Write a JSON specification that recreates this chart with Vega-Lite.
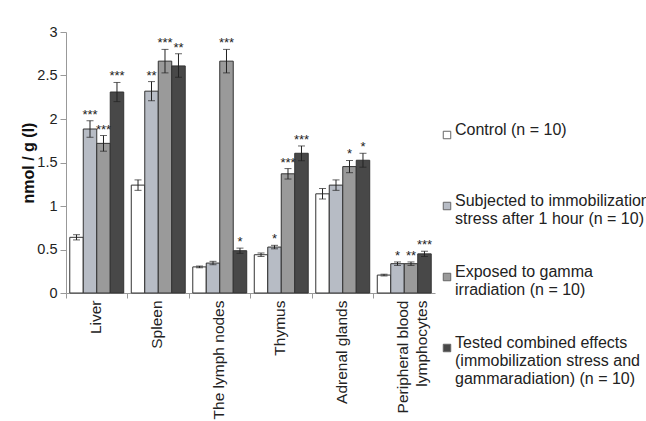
{
  "$schema": "https://vega.github.io/schema/vega-lite/v6.json",
  "width": 369,
  "height": 261,
  "autosize": {"type": "none"},
  "padding": {"left": 66, "top": 32, "right": 211, "bottom": 128},
  "background": "white",
  "config": {
    "font": "Liberation Sans",
    "view": {"stroke": null},
    "axis": {"labelFont": "Liberation Sans", "titleFont": "Liberation Sans", "labelColor": "#222", "titleColor": "#111"},
    "legend": {"labelFont": "Liberation Sans"}
  },
  "data": {
    "values": [
      {"organ": "Liver", "group": "Control (n = 10)|", "value": 0.64, "lo": 0.61, "hi": 0.67, "sig": ""},
      {"organ": "Liver", "group": "Subjected to immobilization|stress after 1 hour (n = 10)", "value": 1.885, "lo": 1.79, "hi": 1.98, "sig": "***"},
      {"organ": "Liver", "group": "Exposed to gamma|irradiation (n = 10)", "value": 1.72, "lo": 1.63, "hi": 1.81, "sig": "***"},
      {"organ": "Liver", "group": "Tested combined effects|(immobilization stress and|gammaradiation) (n = 10)", "value": 2.31, "lo": 2.2, "hi": 2.42, "sig": "***"},
      {"organ": "Spleen", "group": "Control (n = 10)|", "value": 1.24, "lo": 1.18, "hi": 1.3, "sig": ""},
      {"organ": "Spleen", "group": "Subjected to immobilization|stress after 1 hour (n = 10)", "value": 2.32, "lo": 2.21, "hi": 2.43, "sig": "**"},
      {"organ": "Spleen", "group": "Exposed to gamma|irradiation (n = 10)", "value": 2.665, "lo": 2.53, "hi": 2.8, "sig": "***"},
      {"organ": "Spleen", "group": "Tested combined effects|(immobilization stress and|gammaradiation) (n = 10)", "value": 2.61, "lo": 2.48, "hi": 2.75, "sig": "**"},
      {"organ": "The lymph nodes", "group": "Control (n = 10)|", "value": 0.3, "lo": 0.29, "hi": 0.31, "sig": ""},
      {"organ": "The lymph nodes", "group": "Subjected to immobilization|stress after 1 hour (n = 10)", "value": 0.344, "lo": 0.325, "hi": 0.364, "sig": ""},
      {"organ": "The lymph nodes", "group": "Exposed to gamma|irradiation (n = 10)", "value": 2.665, "lo": 2.53, "hi": 2.8, "sig": "***"},
      {"organ": "The lymph nodes", "group": "Tested combined effects|(immobilization stress and|gammaradiation) (n = 10)", "value": 0.486, "lo": 0.456, "hi": 0.516, "sig": "*"},
      {"organ": "Thymus", "group": "Control (n = 10)|", "value": 0.44, "lo": 0.42, "hi": 0.46, "sig": ""},
      {"organ": "Thymus", "group": "Subjected to immobilization|stress after 1 hour (n = 10)", "value": 0.528, "lo": 0.508, "hi": 0.548, "sig": "*"},
      {"organ": "Thymus", "group": "Exposed to gamma|irradiation (n = 10)", "value": 1.37, "lo": 1.31, "hi": 1.43, "sig": "***"},
      {"organ": "Thymus", "group": "Tested combined effects|(immobilization stress and|gammaradiation) (n = 10)", "value": 1.606, "lo": 1.52, "hi": 1.69, "sig": "***"},
      {"organ": "Adrenal glands", "group": "Control (n = 10)|", "value": 1.14, "lo": 1.08, "hi": 1.2, "sig": ""},
      {"organ": "Adrenal glands", "group": "Subjected to immobilization|stress after 1 hour (n = 10)", "value": 1.24, "lo": 1.18, "hi": 1.3, "sig": ""},
      {"organ": "Adrenal glands", "group": "Exposed to gamma|irradiation (n = 10)", "value": 1.453, "lo": 1.383, "hi": 1.523, "sig": "*"},
      {"organ": "Adrenal glands", "group": "Tested combined effects|(immobilization stress and|gammaradiation) (n = 10)", "value": 1.526, "lo": 1.446, "hi": 1.606, "sig": "*"},
      {"organ": "Peripheral blood|lymphocytes", "group": "Control (n = 10)|", "value": 0.206, "lo": 0.196, "hi": 0.216, "sig": ""},
      {"organ": "Peripheral blood|lymphocytes", "group": "Subjected to immobilization|stress after 1 hour (n = 10)", "value": 0.337, "lo": 0.317, "hi": 0.357, "sig": "*"},
      {"organ": "Peripheral blood|lymphocytes", "group": "Exposed to gamma|irradiation (n = 10)", "value": 0.337, "lo": 0.317, "hi": 0.357, "sig": "**"},
      {"organ": "Peripheral blood|lymphocytes", "group": "Tested combined effects|(immobilization stress and|gammaradiation) (n = 10)", "value": 0.45, "lo": 0.42, "hi": 0.48, "sig": "***"}
    ]
  },
  "encoding": {
    "xOffset": {
      "field": "group", "type": "nominal",
      "sort": ["Control (n = 10)|", "Subjected to immobilization|stress after 1 hour (n = 10)", "Exposed to gamma|irradiation (n = 10)", "Tested combined effects|(immobilization stress and|gammaradiation) (n = 10)"],
      "scale": {"paddingInner": 0, "paddingOuter": 0.28}
    }
  },
  "layer": [
    {
      "mark": {"type": "bar", "stroke": "#333", "strokeWidth": 1},
      "encoding": {
        "x": {
          "field": "organ", "type": "nominal",
          "sort": ["Liver", "Spleen", "The lymph nodes", "Thymus", "Adrenal glands", "Peripheral blood|lymphocytes"],
          "scale": {"paddingInner": 0, "paddingOuter": 0},
          "axis": {"title": null, "orient": "bottom", "labels": false, "bandPosition": 0, "ticks": true, "tickSize": 5, "tickColor": "#999", "domainColor": "#999"}
        },
        "y": {
          "field": "value", "type": "quantitative", "title": "nmol / g (l)",
          "scale": {"domain": [0, 3], "nice": false},
          "axis": {"title": "nmol / g (l)", "values": [0, 0.5, 1, 1.5, 2, 2.5, 3], "format": "~g", "grid": false, "domainColor": "#999", "tickColor": "#999", "tickSize": 6, "labelFontSize": 14.5, "labelPadding": 3, "titleFontSize": 16, "titleFontWeight": "bold", "titlePadding": 0}
        },
        "color": {
          "field": "group", "type": "nominal",
          "sort": ["Control (n = 10)|", "Subjected to immobilization|stress after 1 hour (n = 10)", "Exposed to gamma|irradiation (n = 10)", "Tested combined effects|(immobilization stress and|gammaradiation) (n = 10)"],
          "scale": {"range": ["#ffffff", "#b7bcc5", "#9a9a9a", "#484848"]},
          "legend": {"title": null, "orient": "none", "legendX": 373, "legendY": 95, "symbolType": "square", "symbolSize": 56, "symbolStrokeColor": "#666", "symbolStrokeWidth": 1, "labelFontSize": 16, "labelColor": "#222", "labelLimit": 0, "labelExpr": "split(datum.label, '|')", "labelBaseline": "alphabetic", "labelOffset": 0, "rowPadding": 37}
        }
      }
    },
    {
      "mark": {"type": "rule", "color": "#222", "strokeWidth": 1},
      "encoding": {
        "x": {
          "field": "organ", "type": "nominal",
          "sort": ["Liver", "Spleen", "The lymph nodes", "Thymus", "Adrenal glands", "Peripheral blood|lymphocytes"],
          "axis": {"title": null, "orient": "bottom", "labels": true, "ticks": false, "domain": false, "labelAngle": -90, "labelAlign": "right", "labelBaseline": "alphabetic", "labelOffset": 4, "labelPadding": 7, "labelFontSize": 15.5, "labelLineHeight": 19, "labelExpr": "split(datum.label, '|')", "labelLimit": 0}
        },
        "y": {"field": "lo", "type": "quantitative", "title": "nmol / g (l)"},
        "y2": {"field": "hi"}
      }
    },
    {
      "mark": {"type": "tick", "color": "#222", "size": 7, "thickness": 1, "orient": "horizontal"},
      "encoding": {
        "x": {"field": "organ", "type": "nominal", "sort": ["Liver", "Spleen", "The lymph nodes", "Thymus", "Adrenal glands", "Peripheral blood|lymphocytes"], "axis": null},
        "y": {"field": "lo", "type": "quantitative", "title": "nmol / g (l)"}
      }
    },
    {
      "mark": {"type": "tick", "color": "#222", "size": 7, "thickness": 1, "orient": "horizontal"},
      "encoding": {
        "x": {"field": "organ", "type": "nominal", "sort": ["Liver", "Spleen", "The lymph nodes", "Thymus", "Adrenal glands", "Peripheral blood|lymphocytes"], "axis": null},
        "y": {"field": "hi", "type": "quantitative", "title": "nmol / g (l)"}
      }
    },
    {
      "mark": {"type": "text", "dy": -2, "baseline": "alphabetic", "fontSize": 13, "color": "#222"},
      "encoding": {
        "x": {"field": "organ", "type": "nominal", "sort": ["Liver", "Spleen", "The lymph nodes", "Thymus", "Adrenal glands", "Peripheral blood|lymphocytes"], "axis": null},
        "y": {"field": "hi", "type": "quantitative", "title": "nmol / g (l)"},
        "text": {"field": "sig"}
      }
    }
  ],
  "resolve": {"axis": {"x": "independent"}}
}
